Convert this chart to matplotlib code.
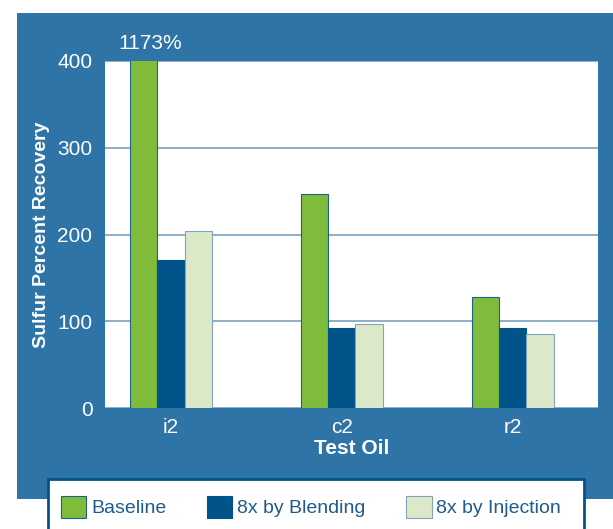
import numpy as np
import matplotlib
matplotlib.use("Agg")
import matplotlib.pyplot as plt
from matplotlib.patches import Rectangle

plt.rcParams['font.family'] = ['Liberation Sans Narrow', 'Liberation Sans', 'DejaVu Sans']

# data
oils = ['i2', 'c2', 'r2']
baseline = [1173, 247, 128]
blending = [171, 92, 92]
injection = [204, 97, 85]
series_names = ['Baseline', '8x by Blending', '8x by Injection']
yticks = [0, 100, 200, 300, 400]

BG = '#2e74a6'
GREEN = '#80bc3c'
NAVY = '#00548a'
PALE = '#dce9c9'
TXT = '#1f5b8c'

W, H = 613, 529
fig = plt.figure(figsize=(W / 100, H / 100), dpi=100)

# blue panel behind the chart
fig.patches.append(Rectangle((17 / W, 1 - 499 / H), 1.0, (499 - 13) / H,
                             transform=fig.transFigure, facecolor=BG,
                             edgecolor='none', zorder=0))

ax = fig.add_axes([105 / W, 1 - 408 / H, 493 / W, 347 / H])
ax.set_facecolor('white')
ax.set_zorder(1)

x = np.arange(len(oils))
bw = 0.16
b1 = ax.bar(x - bw, baseline, bw, color=GREEN, edgecolor='#1f5f8b', linewidth=0.8, zorder=3)
b2 = ax.bar(x, blending, bw, color=NAVY, edgecolor=NAVY, linewidth=0.8, zorder=3)
b3 = ax.bar(x + bw, injection, bw, color=PALE, edgecolor='#7fa3c0', linewidth=0.8, zorder=3)

ax.set_ylim(0, 400)
ax.set_xlim(-0.386, 2.5)
ax.set_yticks(yticks)
ax.yaxis.grid(True, color='#7a9fbf', linewidth=1.2, zorder=1)
ax.set_axisbelow(True)
for s in ax.spines.values():
    s.set_visible(False)
ax.set_xticks(x)
ax.set_xticklabels(oils)
ax.tick_params(length=0, colors='white', labelsize=15)
ax.tick_params(axis='y', pad=9)
ax.tick_params(axis='x', pad=7)

ax.set_ylabel('Sulfur Percent Recovery', color='white', fontsize=14, fontweight='bold', labelpad=5)
ax.set_xlabel('Test Oil', color='white', fontsize=15, fontweight='bold', labelpad=2)

# off-scale baseline value
ax.annotate(f'{baseline[0]}%', xy=(x[0] - bw, 400), xytext=(5, 6),
            textcoords='offset points', ha='center', va='bottom',
            color='white', fontsize=15, annotation_clip=False)

# legend box at the bottom
fig.patches.append(Rectangle((48 / W, -0.05), (584 - 48) / W, 0.05 + 1 - 479 / H,
                             transform=fig.transFigure, facecolor='white',
                             edgecolor=NAVY, linewidth=2, zorder=2))
leg = fig.legend([b1, b2, b3], series_names, loc='center left',
                 bbox_to_anchor=(53 / W, 1 - 507 / H), ncol=3, frameon=False,
                 fontsize=14, handlelength=1.3, handleheight=1.4,
                 handletextpad=0.25, columnspacing=2.1, borderaxespad=0)
for t in leg.get_texts():
    t.set_color(TXT)
leg.set_zorder(3)

fig.savefig('out.png', dpi=100, facecolor='white')
